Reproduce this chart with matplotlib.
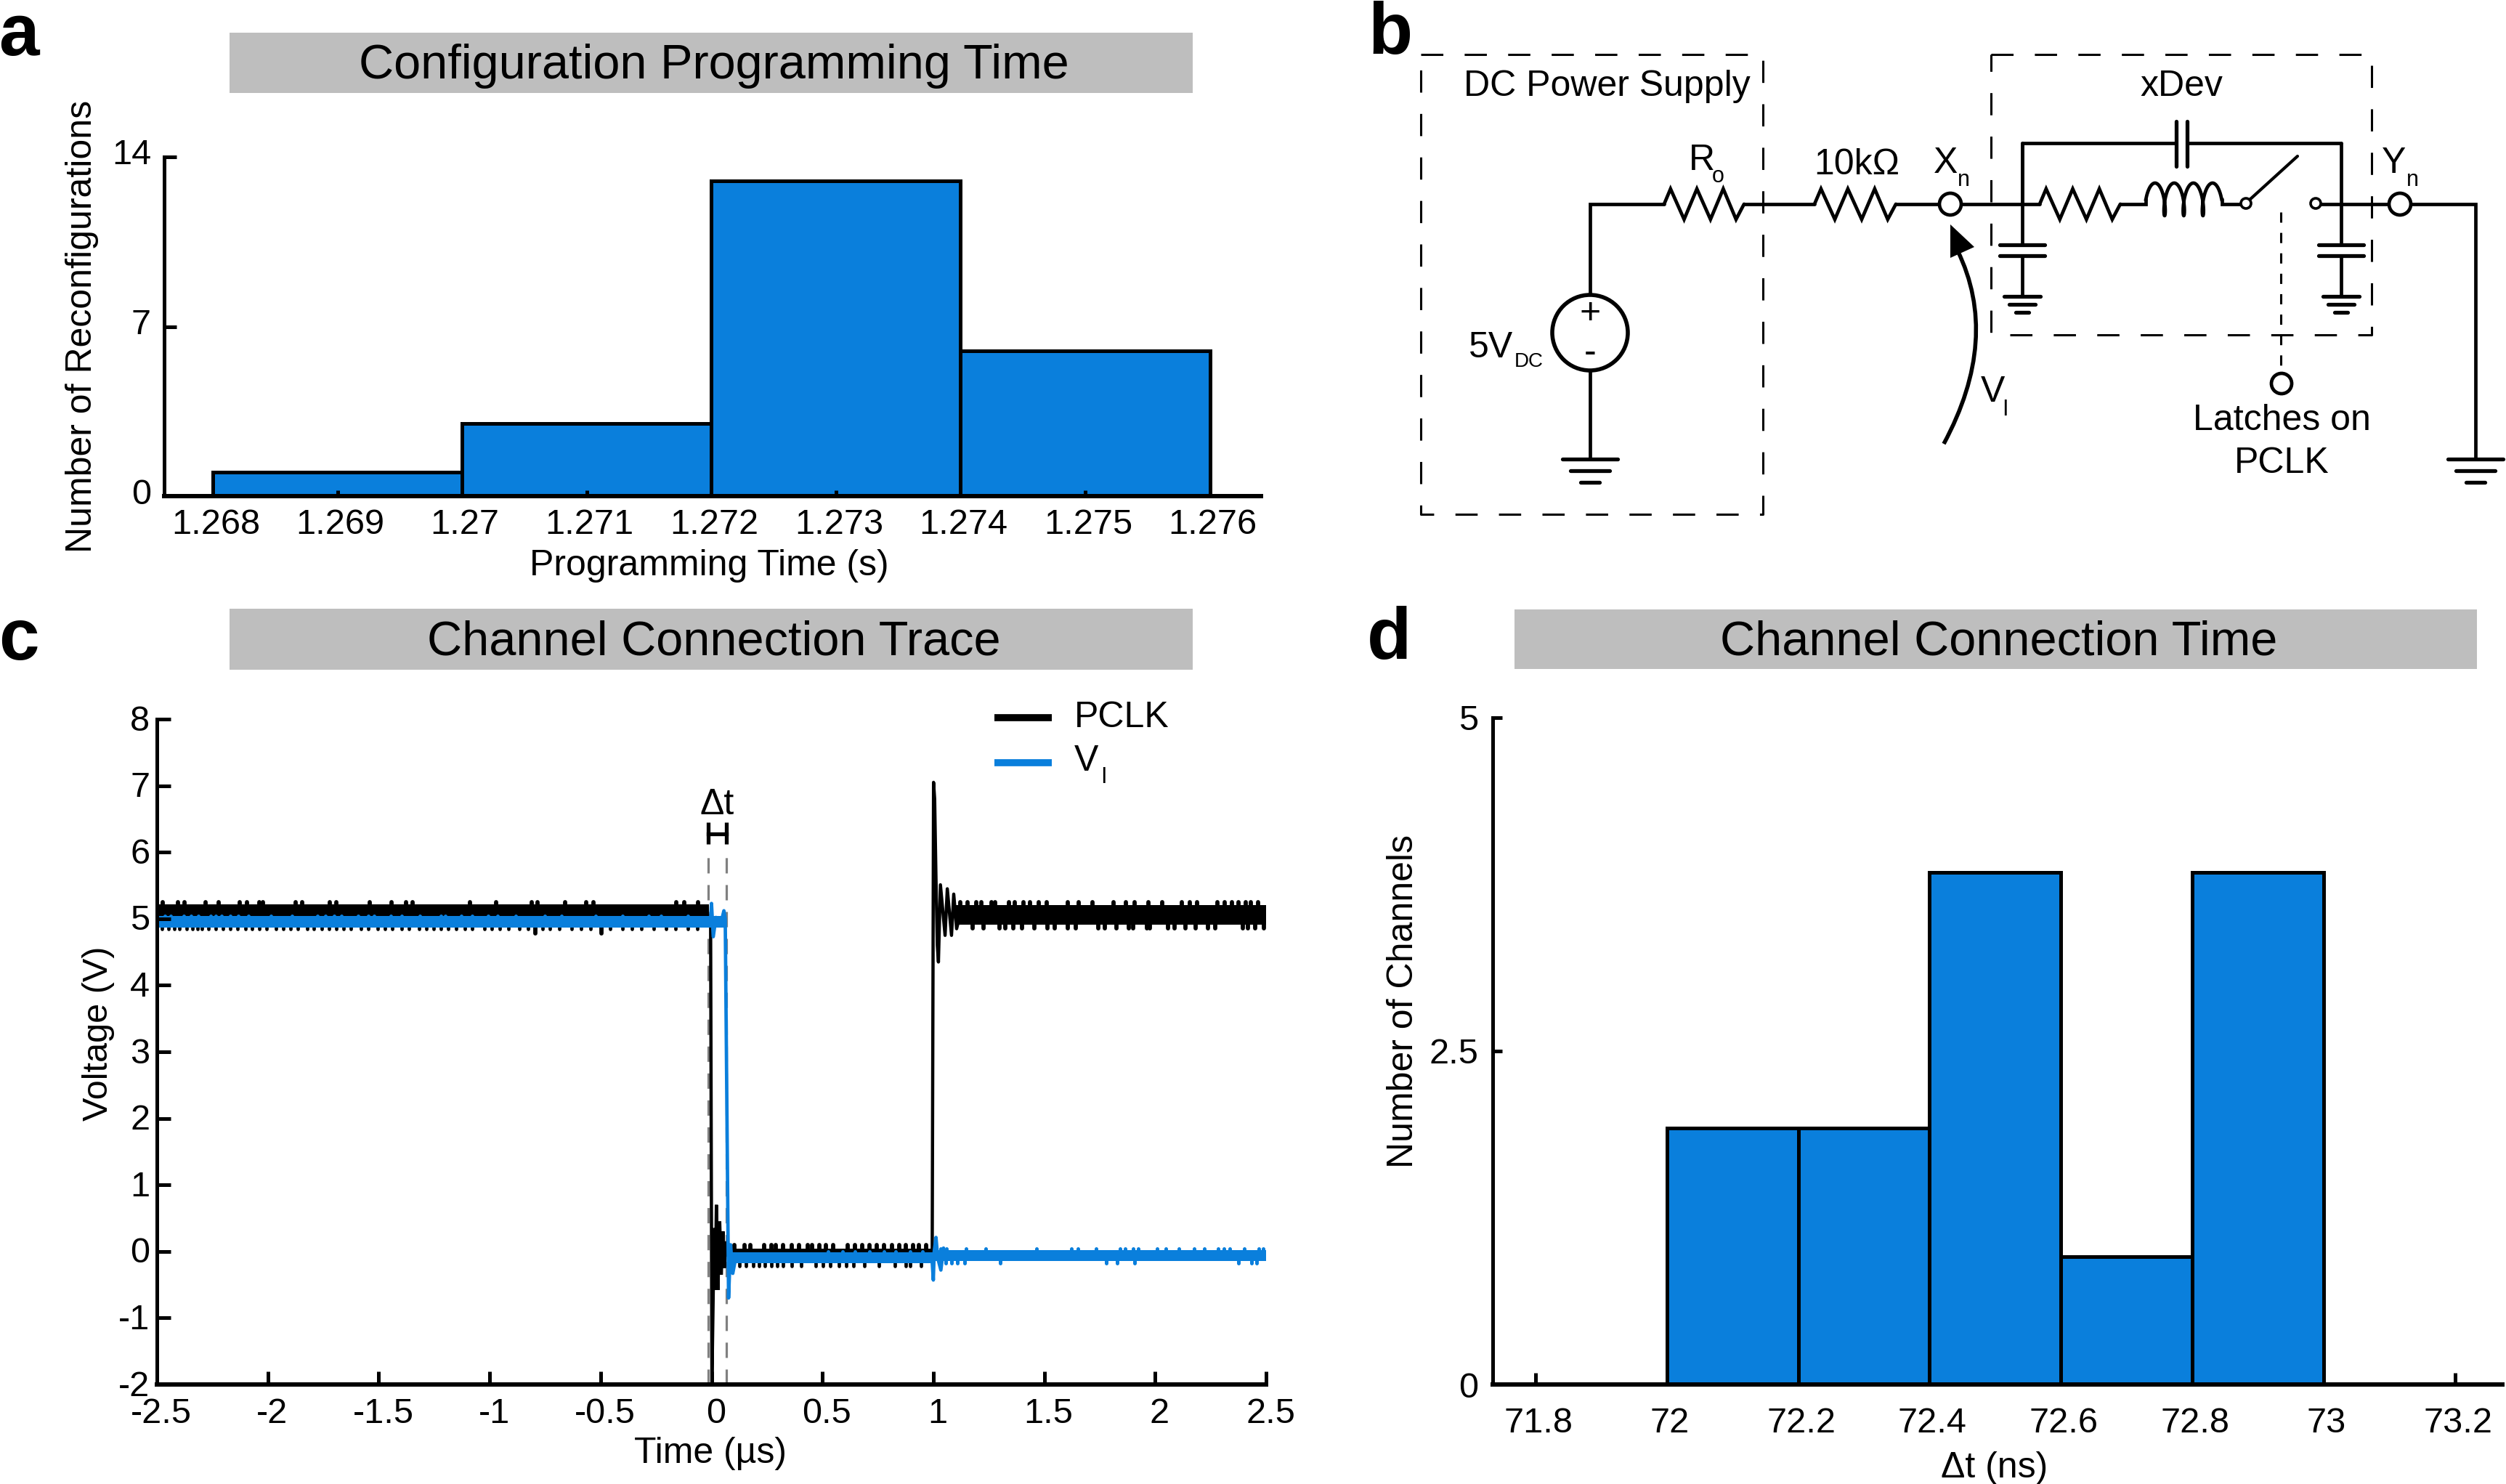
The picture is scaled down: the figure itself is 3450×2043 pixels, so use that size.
import numpy as np
import matplotlib
matplotlib.use('Agg')
import matplotlib.pyplot as plt
from matplotlib.patches import Circle, PathPatch, Polygon, Rectangle
from matplotlib.path import Path
from matplotlib.transforms import ScaledTranslation

plt.rcParams['font.family'] = ['Liberation Sans', 'DejaVu Sans']

W, H = 3450, 2043
BLUE = '#0A7FDC'
GREY = '#BEBEBE'
LW = 3.6
WIRE = 3.4

# panel a
prog_edges = [1.268, 1.270, 1.272, 1.274, 1.276]
prog_counts = [1, 3, 13, 6]
prog_ticks = [1.268, 1.269, 1.27, 1.271, 1.272, 1.273, 1.274, 1.275, 1.276]
prog_ticklabels = ['1.268', '1.269', '1.27', '1.271', '1.272', '1.273', '1.274', '1.275', '1.276']

# panel d
conn_edges = [72.0, 72.2, 72.4, 72.6, 72.8, 73.0]
conn_counts = [1.92, 1.92, 3.84, 0.96, 3.84]
conn_ticks = [71.8, 72, 72.2, 72.4, 72.6, 72.8, 73, 73.2]
conn_ticklabels = ['71.8', '72', '72.2', '72.4', '72.6', '72.8', '73', '73.2']

# panel c, switching edges (us, V)
pclk_fall_t = [-0.014, -0.004, 0.002, 0.012, 0.017, 0.022, 0.029, 0.037, 0.044, 0.052, 0.058, 0.066, 0.075]
pclk_fall_v = [5.05, 5.0, -2.0, 0.35, -0.58, 0.70, -0.58, 0.45, -0.35, 0.30, -0.25, 0.15, -0.05]
pclk_rise_t = [0.995, 1.001, 1.006, 1.012, 1.018, 1.023, 1.032, 1.053, 1.063, 1.082, 1.092, 1.105, 1.12]
pclk_rise_v = [0.0, 7.05, 6.8, 5.6, 4.6, 4.35, 5.51, 4.75, 5.45, 4.75, 5.37, 4.85, 5.05]
vi_fall_t = [-0.004, 0.0, 0.008, 0.02, 0.04, 0.056, 0.062, 0.077, 0.086, 0.096, 0.11]
vi_fall_v = [5.0, 5.23, 4.73, 5.02, 4.9, 5.12, 5.0, -0.70, 0.1, -0.33, -0.08]
vi_ring_t = [0.994, 1.0, 1.004, 1.012, 1.02, 1.034, 1.046, 1.056]
vi_ring_v = [-0.1, -0.43, 0.0, 0.21, -0.1, -0.28, 0.05, -0.1]

# noise bands: start, stop, low, high
pclk_high_l = [-2.5, -0.012, 4.87, 5.22]
pclk_low = [0.075, 0.998, -0.18, 0.04]
pclk_high_r = [1.10, 2.5, 4.91, 5.21]
vi_high = [-2.5, 0.056, 4.87, 5.04]
vi_low_l = [0.09, 1.0, -0.175, -0.01]
vi_low_r = [1.0, 2.5, -0.14, 0.02]

# excursions outside the bands, times in us
pclk_up_l = [-2.474, -2.405, -2.376, -2.281, -2.222, -2.127, -2.094, -2.038, -2.022, -1.875, -1.845,
             -1.721, -1.691, -1.541, -1.442, -1.377, -1.347, -1.089, -0.971, -0.810, -0.784, -0.660,
             -0.565, -0.532, -0.159, -0.123, -0.061]
pclk_dn_l = [-2.477, -2.448, -2.421, -2.398, -2.366, -2.340, -2.317, -2.297, -2.268, -2.235, -2.202,
             -2.169, -2.137, -2.101, -2.071, -2.038, -2.006, -1.963, -1.930, -1.898, -1.865, -1.822,
             -1.793, -1.757, -1.724, -1.691, -1.658, -1.626, -1.580, -1.547, -1.505, -1.472, -1.439,
             -1.397, -1.364, -1.318, -1.285, -1.252, -1.220, -1.187, -1.151, -1.112, -1.079, -1.023,
             -0.990, -0.955, -0.915, -0.866, -0.827, -0.761, -0.729, -0.686, -0.630, -0.588, -0.545,
             -0.457, -0.401, -0.359, -0.316, -0.260, -0.205, -0.162, -0.106, -0.064]
pclk_dn_big = [-0.794, -0.496]
vi_up_l = [-2.464, -2.438, -2.379, -2.346, -2.313, -2.258, -2.235, -2.209, -2.169, -2.133, -2.087,
           -1.986, -1.891, -1.776, -1.740, -1.701, -1.668, -1.593, -1.547, -1.521, -1.446, -1.397,
           -1.315, -1.220, -1.200, -1.128, -1.079, -1.007, -0.964, -0.882, -0.751, -0.676, -0.522,
           -0.401, -0.283, -0.227, -0.106]
pclk_up_m = [0.103, 0.149, 0.175, 0.238, 0.270, 0.290, 0.323, 0.362, 0.395, 0.434, 0.454, 0.486, 0.516,
             0.549, 0.614, 0.647, 0.680, 0.712, 0.745, 0.778, 0.814, 0.846, 0.876, 0.909, 0.935, 0.968]
pclk_dn_m = [0.093, 0.126, 0.156, 0.188, 0.214, 0.241, 0.270, 0.296, 0.323, 0.362, 0.404, 0.470, 0.503,
             0.535, 0.575, 0.607, 0.640, 0.689, 0.755, 0.827, 0.876, 0.896, 0.945]
vi_up_m = [0.526, 0.591, 0.647, 0.712, 0.778, 0.830, 0.896, 0.951]
pclk_up_r = [1.122, 1.154, 1.192, 1.216, 1.261, 1.279, 1.341, 1.367, 1.405, 1.436, 1.475, 1.511, 1.606,
             1.655, 1.717, 1.812, 1.868, 1.907, 1.970, 2.032, 2.120, 2.156, 2.189, 2.281, 2.313, 2.346,
             2.376, 2.408, 2.431, 2.464]
pclk_dn_r = [1.176, 1.226, 1.298, 1.324, 1.361, 1.400, 1.456, 1.514, 1.547, 1.606, 1.642, 1.743, 1.773,
             1.825, 1.881, 1.901, 1.963, 1.976, 2.058, 2.088, 2.136, 2.182, 2.238, 2.271, 2.395, 2.418,
             2.451, 2.490]
vi_up_r = [1.033, 1.059, 1.148, 1.236, 1.465, 1.622, 1.652, 1.734, 1.842, 1.865, 1.901, 1.924, 2.009,
           2.048, 2.107, 2.176, 2.222, 2.284, 2.310, 2.336, 2.402, 2.467, 2.487]
vi_dn_r = [1.056, 1.082, 1.108, 1.141, 1.302, 1.780, 1.829, 1.907, 2.376, 2.435, 2.458]

time_ticks = [-2.5, -2, -1.5, -1, -0.5, 0, 0.5, 1, 1.5, 2, 2.5]
time_ticklabels = ['-2.5', '-2', '-1.5', '-1', '-0.5', '0', '0.5', '1', '1.5', '2', '2.5']
volt_ticks = [-2, -1, 0, 1, 2, 3, 4, 5, 6, 7, 8]
volt_ticklabels = ['-2', '-1', '0', '1', '2', '3', '4', '5', '6', '7', '8']
dt_marks = [-0.015, 0.067]

fig = plt.figure(figsize=(W / 100, H / 100), dpi=100, facecolor='white')


def make_axes(left, right, top, bottom):
    ax = fig.add_axes([left / W, 1 - bottom / H, (right - left) / W, (bottom - top) / H])
    ax.spines['top'].set_visible(False)
    ax.spines['right'].set_visible(False)
    ax.spines['left'].set_linewidth(LW)
    ax.spines['bottom'].set_linewidth(4.3)
    ax.set_axisbelow(False)
    ax.patch.set_alpha(0)
    return ax


def style_ticks(ax, xlen, ylen, xpad, ypad, xshift=0, yshift=0):
    ax.tick_params(axis='x', direction='in', length=xlen, width=LW, labelsize=35, pad=xpad)
    ax.tick_params(axis='y', direction='in', length=ylen, width=LW, labelsize=35, pad=ypad)
    for lab in ax.get_xticklabels():
        lab.set_transform(lab.get_transform() + ScaledTranslation(xshift / 100, 0, fig.dpi_scale_trans))
    for lab in ax.get_yticklabels():
        lab.set_transform(lab.get_transform() + ScaledTranslation(0, yshift / 100, fig.dpi_scale_trans))


def hist(ax, edges, counts):
    ax.bar(edges[:-1], counts, width=np.diff(edges), align='edge', color=BLUE,
           edgecolor='black', linewidth=LW, zorder=1)


# panel a
ax_a = make_axes(226, 1736, 216, 683)
hist(ax_a, prog_edges, prog_counts)
ax_a.set_xlim(1.26761, 1.27641)
ax_a.set_ylim(0, 14)
ax_a.set_xticks(prog_ticks, prog_ticklabels)
ax_a.set_yticks([0, 7, 14], ['0', '7', '14'])
style_ticks(ax_a, 5.8, 12, 12, 13, xshift=4, yshift=7)

# panel c
ax_c = make_axes(216, 1743, 990, 1906)
ax_c.set_xlim(-2.5, 2.5)
ax_c.set_ylim(-2, 8)
ax_c.vlines(dt_marks, -2, 5.97, color='#808080', linewidth=2.3, linestyles=(0, (6.6, 5)), zorder=1)


def band(ax, b, color, z):
    ax.fill_between(b[:2], b[2], b[3], color=color, linewidth=0, zorder=z)


def spikes(ax, times, lo, hi, color, z, lw=4.2):
    ax.vlines(times, lo, hi, color=color, linewidth=lw, capstyle='round', zorder=z)


# PCLK under VI
band(ax_c, pclk_high_l, 'black', 1.2)
band(ax_c, pclk_low, 'black', 1.2)
band(ax_c, pclk_high_r, 'black', 1.2)
spikes(ax_c, pclk_up_l, 5.1, 5.25, 'black', 1.2)
spikes(ax_c, pclk_dn_l, 4.84, 5.0, 'black', 1.2, lw=3.4)
spikes(ax_c, pclk_dn_big, 4.78, 5.0, 'black', 1.2)
spikes(ax_c, pclk_up_m, 0.0, 0.10, 'black', 1.2)
spikes(ax_c, pclk_dn_m, -0.22, 0.0, 'black', 1.2, lw=3.4)
spikes(ax_c, pclk_up_r, 5.1, 5.25, 'black', 1.2)
spikes(ax_c, pclk_dn_r, 4.86, 5.0, 'black', 1.2)
ax_c.plot(pclk_fall_t, pclk_fall_v, color='black', linewidth=3.2, solid_joinstyle='miter', zorder=1.3)
ax_c.plot(pclk_rise_t, pclk_rise_v, color='black', linewidth=3.2, zorder=1.3)

band(ax_c, vi_high, BLUE, 1.5)
band(ax_c, vi_low_l, BLUE, 1.5)
band(ax_c, vi_low_r, BLUE, 1.5)
spikes(ax_c, vi_up_l, 5.0, 5.04, BLUE, 1.5, lw=3.6)
spikes(ax_c, vi_up_m, -0.05, 0.0, BLUE, 1.5, lw=3.6)
spikes(ax_c, vi_up_r, 0.0, 0.04, BLUE, 1.5, lw=3.6)
spikes(ax_c, vi_dn_r, -0.18, -0.1, BLUE, 1.5, lw=3.6)
ax_c.plot(vi_fall_t, vi_fall_v, color=BLUE, linewidth=3.4, zorder=1.6)
ax_c.plot(vi_ring_t, vi_ring_v, color=BLUE, linewidth=3.4, zorder=1.6)

# delta-t bracket
ax_c.plot(dt_marks, [6.28, 6.28], color='black', linewidth=3.8, zorder=2)
ax_c.vlines(dt_marks, 6.12, 6.45, color='black', linewidth=3.8, zorder=2)

ax_c.set_xticks(time_ticks, time_ticklabels)
ax_c.set_yticks(volt_ticks, volt_ticklabels)
style_ticks(ax_c, 13, 13.7, 13, 7, xshift=6, yshift=2)

# panel d
ax_d = make_axes(2055, 3445, 988, 1906)
hist(ax_d, conn_edges, conn_counts)
ax_d.set_xlim(71.735, 73.272)
ax_d.set_ylim(0, 5)
ax_d.set_xticks(conn_ticks, conn_ticklabels)
ax_d.set_yticks([0, 2.5, 5], ['0', '2.5', '5'])
style_ticks(ax_d, 11.5, 9.4, 22, 14, xshift=4)

# overlay in pixel coordinates for headers, labels and the schematic
ov = fig.add_axes([0, 0, 1, 1], zorder=5)
ov.set_xlim(0, W)
ov.set_ylim(H, 0)
ov.axis('off')


def label(x, y, s, size=36, **kw):
    kw.setdefault('ha', 'center')
    kw.setdefault('va', 'center')
    ov.text(x, y, s, fontsize=size, color='black', **kw)


for x0, x1, y0, y1, txt, tx in [(316, 1642, 45, 128, 'Configuration Programming Time', 983),
                                (316, 1642, 838, 922, 'Channel Connection Trace', 983),
                                (2085, 3410, 839, 921, 'Channel Connection Time', 2752)]:
    ov.add_patch(Rectangle((x0, y0), x1 - x0, y1 - y0, facecolor=GREY, edgecolor='none', zorder=0))
    label(tx, (y0 + y1) / 2 + 4, txt, size=48)

for x, y, s in [(26, 50, 'a'), (1914, 48, 'b'), (26, 882, 'c'), (1912, 881, 'd')]:
    label(x, y, s, size=72, fontweight='bold')

label(976, 779, 'Programming Time (s)')
label(978, 2001, 'Time (µs)')
label(2746, 2021, 'Δt (ns)')
label(113, 449, 'Number of Reconfigurations', rotation=90)
label(135, 1423, 'Voltage (V)', size=35, rotation=90)
label(1932, 1378, 'Number of Channels', rotation=90)

# trace legend
ov.plot([1369, 1448], [988, 988], color='black', linewidth=7, solid_capstyle='butt')
ov.plot([1369, 1448], [1050, 1050], color=BLUE, linewidth=7, solid_capstyle='butt')
label(1479, 988, 'PCLK', ha='left')
label(1479, 1048, 'V', ha='left')
label(1515, 1070, 'I', size=22, ha='left')
label(987, 1108, 'Δt')


def wire(xs, ys, lw=WIRE, **kw):
    ov.plot(xs, ys, color='black', linewidth=lw, solid_capstyle='round', solid_joinstyle='miter', **kw)


def resistor(x0, x1, y=281, amp=21):
    fr = [0, 0.08, 0.25, 0.41, 0.58, 0.74, 0.90, 1]
    sg = [0, -1, 1, -1, 1, -1, 1, 0]
    wire([x0 + f * (x1 - x0) for f in fr], [y + s * amp for s in sg])


def node(x, y, r, lw=WIRE):
    ov.add_patch(Circle((x, y), r, facecolor='white', edgecolor='black', linewidth=lw, zorder=4))


def ground(x, y, w1=38, w2=27, w3=13, step=16):
    for i, w in enumerate([w1, w2, w3]):
        wire([x - w, x + w], [y + i * step, y + i * step], lw=3.8)


def cap_shunt(x, y=337):
    wire([x - 31, x + 31], [y, y], lw=3.8)
    wire([x - 31, x + 31], [y + 15, y + 15], lw=3.8)
    wire([x, x], [197, y])
    wire([x, x], [y + 15, 408])
    ground(x, 408, 25, 18, 9, 11)


def dashed_box(x0, x1, y0, y1):
    ov.plot([x0, x1, x1, x0, x0], [y0, y0, y1, y1, y0], color='black', linewidth=2.2,
            linestyle=(0, (10, 9.6)), dash_capstyle='butt')


dashed_box(1956, 2427, 75, 708)
dashed_box(2741, 3265, 75, 461)

# supply side
wire([2189, 2189, 2291], [406, 281, 281])
ov.add_patch(Circle((2189, 458), 52, facecolor='white', edgecolor='black', linewidth=WIRE + 0.6, zorder=3))
wire([2189, 2189], [510, 632])
ground(2189, 632)
resistor(2291, 2401)
wire([2401, 2498], [281, 281])
resistor(2498, 2610)
wire([2610, 2808], [281, 281])
node(2685, 281, 15)

# xDev network
wire([2784, 2784], [197, 281])
wire([2784, 2996], [197, 197])
wire([3011, 3223], [197, 197])
wire([2996, 2996], [167, 229], lw=3.8)
wire([3011, 3011], [167, 229], lw=3.8)
cap_shunt(2784)
cap_shunt(3223)
resistor(2808, 2919)
wire([2919, 2954, 2954], [281, 281, 274])
# inductor coil, loops hanging below the winding line
tc = np.linspace(-1.5 * np.pi, 5.5 * np.pi, 300)
coil_x = 2980 + 4.2 * tc - 6 * np.sin(tc)
coil_y = 274.5 + 22.5 * np.cos(tc)
ov.plot(coil_x, coil_y, color='black', linewidth=WIRE)
wire([3059, 3059, 3092], [274, 281, 281])
wire([3097, 3163], [275, 215], lw=3)
node(3092, 280, 7, lw=2.6)
node(3188, 280, 7, lw=2.6)
wire([3195, 3408, 3408], [281, 281, 632])
node(3304, 281, 15)
ground(3408, 632)

# latch control line
ov.plot([3140, 3140], [292, 514], color='black', linewidth=2.2, linestyle=(0, (4.6, 4.6)), dash_capstyle='butt')
node(3141, 528, 14)

# VI arrow
ov.add_patch(PathPatch(Path([(2676, 611), (2754, 466), (2695, 345)], [Path.MOVETO, Path.CURVE3, Path.CURVE3]),
                       facecolor='none', edgecolor='black', linewidth=WIRE + 0.6))
ov.add_patch(Polygon([(2685, 309), (2718, 340), (2685, 355)], closed=True, facecolor='black', edgecolor='none'))

label(2212, 119, 'DC Power Supply')
label(3003, 119, 'xDev')
label(2343, 221, 'R')
label(2365, 243, 'o', size=22)
label(2556, 227, '10kΩ')
label(2679, 225, 'X')
label(2703, 248, 'n', size=22)
label(3296, 225, 'Y')
label(3321, 248, 'n', size=22)
label(2189, 432, '+', zorder=6)
label(2189, 486, '-', zorder=6)
label(2053, 479, '5V')
label(2105, 498, 'DC', size=20)
label(2743, 540, 'V')
label(2760, 564, 'I', size=22)
label(3141, 579, 'Latches on')
label(3141, 638, 'PCLK')

fig.savefig('out.png', dpi=100)
